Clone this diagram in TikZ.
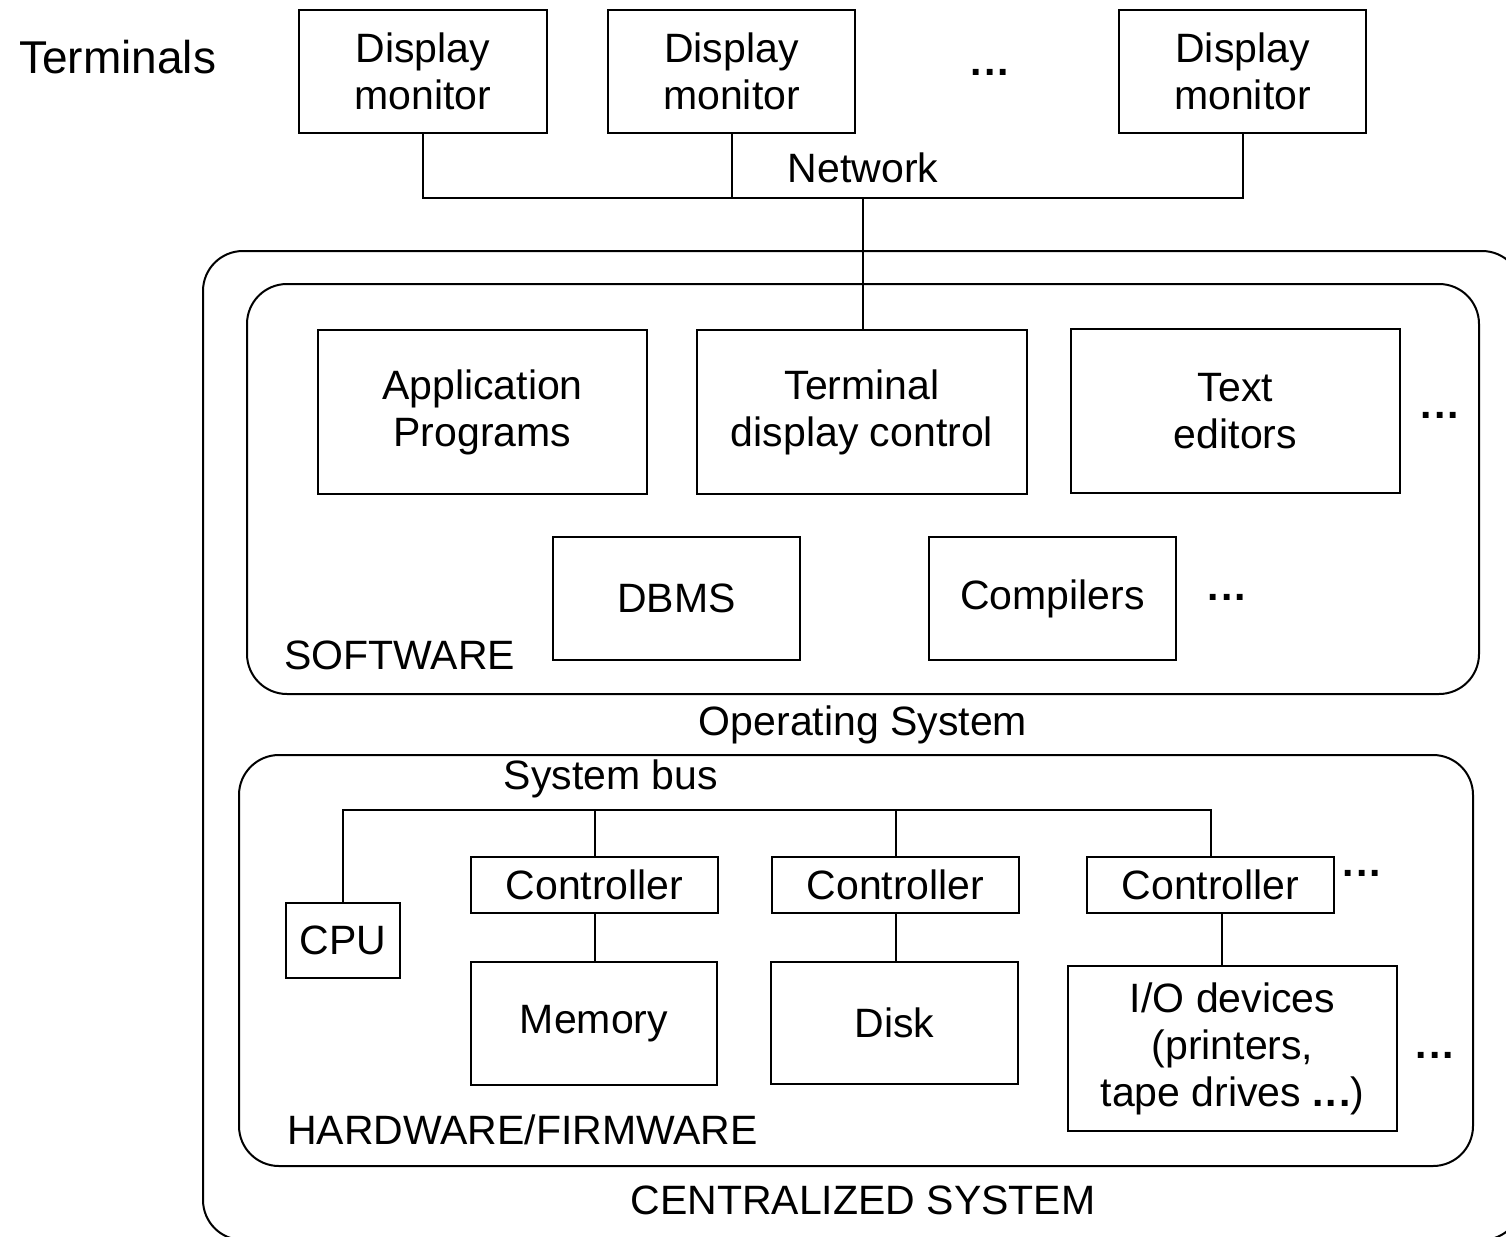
\documentclass[tikz,border=0pt]{standalone}
\usepackage{fontspec}
\setmainfont{Liberation Sans}
\begin{document}
\begin{tikzpicture}[x=1pt,y=-1pt,
  txt/.style={font=\fontsize{41}{47}\selectfont},
  box/.style={draw, line width=2pt, inner sep=0pt, align=center, txt},
  lbl/.style={inner sep=0pt, align=center, txt},
  dots/.style={inner sep=0pt, font=\fontsize{41}{47}\selectfont\bfseries},
  wire/.style={line width=2pt},
  group/.style={draw, line width=2pt, rounded corners=40pt}]
\useasboundingbox (0,0) rectangle (1506,1236);
\clip (0,0) rectangle (1506,1236);

% groups
\draw[group] (203,251) rectangle (1522,1240);
\draw[group] (247,284) rectangle (1479,694);
\draw[group] (239,755) rectangle (1473,1166);

% terminals
\node[lbl, anchor=west, font=\fontsize{46}{52}\selectfont] (term) at (19,57) {Terminals};
\node[box, minimum width=248, minimum height=123] (d1) at (423,71.5) {Display\\monitor};
\node[box, minimum width=247, minimum height=123] (d2) at (731.5,71.5) {Display\\monitor};
\node[box, minimum width=247, minimum height=123] (d3) at (1242.5,71.5) {Display\\monitor};
\node[dots] (dtop) at (990,72) {.\kern2pt.\kern2pt.};
\node[lbl] (netl) at (863,168) {Network};

% software
\node[box, minimum width=329, minimum height=164] (app) at (482.5,412) {Application\\Programs};
\node[box, minimum width=330, minimum height=164] (tdc) at (862,412) {Terminal\\display control};
\node[box, minimum width=329, minimum height=164] (ted) at (1235.5,411) {Text\\editors};
\node[dots] (dsw1) at (1440,415) {.\kern2pt.\kern2pt.};
\node[box, minimum width=247, minimum height=123] (dbms) at (676.5,598.5) {DBMS};
\node[box, minimum width=247, minimum height=123] (comp) at (1052.5,598.5) {Compilers};
\node[dots] (dsw2) at (1227,597) {.\kern2pt.\kern2pt.};
\node[lbl, anchor=west] (sw) at (284,655) {SOFTWARE};
\node[lbl] (os) at (863,725) {Operating System};

% hardware
\node[lbl] (sbl) at (611,779) {System bus};
\node[box, minimum width=247, minimum height=56] (c1) at (594.5,885) {Controller};
\node[box, minimum width=247, minimum height=56] (c2) at (895.5,885) {Controller};
\node[box, minimum width=247, minimum height=56] (c3) at (1210.5,885) {Controller};
\node[dots] (dhw1) at (1362,873) {.\kern2pt.\kern2pt.};
\node[box, minimum width=114, minimum height=75] (cpu) at (343,940.5) {CPU};
\node[box, minimum width=246, minimum height=123] (mem) at (594,1023.5) {Memory};
\node[box, minimum width=247, minimum height=122] (disk) at (894.5,1023) {Disk};
\node[box, minimum width=329, minimum height=165] (io) at (1232.5,1048.5) {I/O devices\\(printers,\\tape drives {\bfseries.\kern2pt.\kern2pt.})};
\node[dots] (dhw2) at (1435,1055) {.\kern2pt.\kern2pt.};
\node[lbl, anchor=west] (hw) at (287,1130) {HARDWARE/FIRMWARE};
\node[lbl] (cs) at (863,1200) {CENTRALIZED SYSTEM};

% network wiring
\coordinate (nb) at (863,198);
\draw[wire] (d1.south) |- (nb) -| (d3.south);
\draw[wire] (d2.south) -- (d2.south |- nb);
\draw[wire] (nb) -- (tdc.north -| nb);

% system bus wiring
\coordinate (sb) at (611,810);
\draw[wire] (cpu.north) |- (sb) -| (c3.north);
\draw[wire] (c1.north) -- (c1.north |- sb);
\draw[wire] (c2.north) -- (c2.north |- sb);
\draw[wire] (c1.south) -- (mem.north -| c1.south);
\draw[wire] (c2.south) -- (disk.north -| c2.south);
\coordinate (iox) at (1222,0);
\draw[wire] (c3.south -| iox) -- (io.north -| iox);
\end{tikzpicture}
\end{document}
